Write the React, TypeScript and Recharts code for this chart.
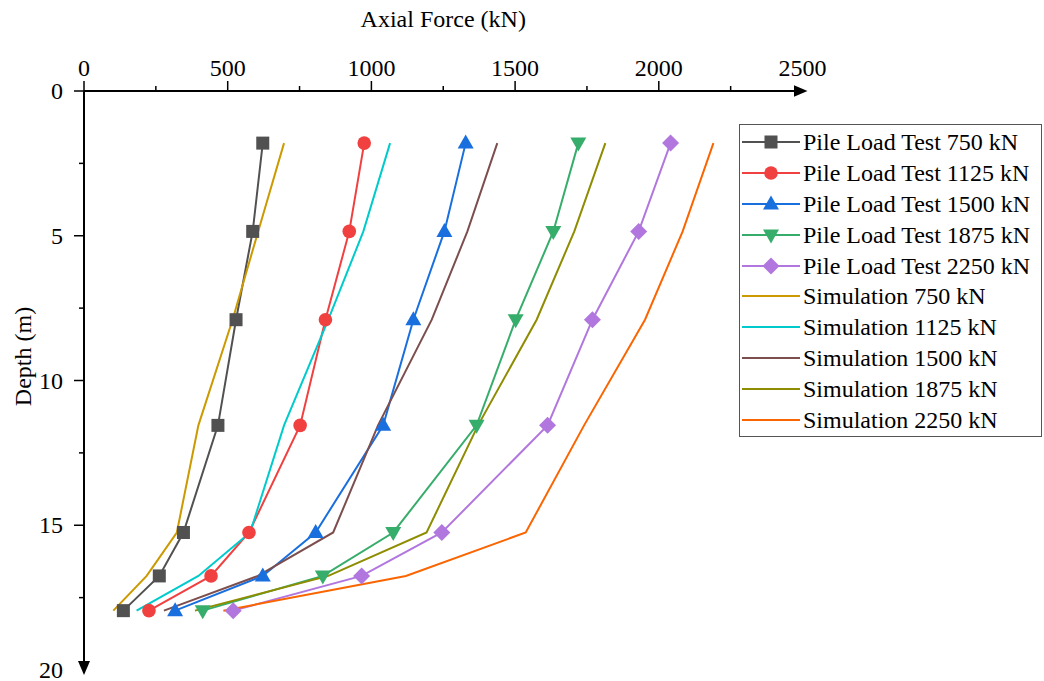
import React from "react";
import { LineChart, Line, XAxis, YAxis, Legend } from "recharts";

const FONT = '"Liberation Serif", "Times New Roman", serif';

// depth of each strain gauge level (m)
const depths = [1.8, 4.85, 7.9, 11.55, 15.25, 16.75, 17.95];

// measured axial force (kN)
const test750 = [622, 587, 529, 466, 346, 262, 137];
const test1125 = [975, 923, 840, 752, 574, 442, 226];
const test1500 = [1328, 1254, 1146, 1041, 806, 622, 317];
const test1875 = [1720, 1633, 1502, 1366, 1076, 831, 413];
const test2250 = [2041, 1930, 1769, 1613, 1245, 966, 519];

// simulated axial force (kN)
const sim750 = [696, 606, 517, 398, 323, 218, 102];
const sim1125 = [1065, 972, 850, 696, 578, 398, 183];
const sim1500 = [1438, 1334, 1210, 1023, 867, 605, 278];
const sim1875 = [1814, 1706, 1575, 1371, 1192, 850, 386];
const sim2250 = [2190, 2083, 1952, 1740, 1537, 1120, 485];

const forceTicks = [0, 250, 500, 750, 1000, 1250, 1500, 1750, 2000, 2250, 2500];
const depthTicks = [0, 2.5, 5, 7.5, 10, 12.5, 15, 17.5, 20];

type MarkerKind = "square" | "circle" | "up" | "down" | "diamond" | null;

const series: { key: string; name: string; color: string; marker: MarkerKind; values: number[] }[] = [
    { key: "t750", name: "Pile Load Test 750 kN", color: "#515151", marker: "square", values: test750 },
    { key: "t1125", name: "Pile Load Test 1125 kN", color: "#F14040", marker: "circle", values: test1125 },
    { key: "t1500", name: "Pile Load Test 1500 kN", color: "#1A6FDF", marker: "up", values: test1500 },
    { key: "t1875", name: "Pile Load Test 1875 kN", color: "#37AD6B", marker: "down", values: test1875 },
    { key: "t2250", name: "Pile Load Test 2250 kN", color: "#B177DE", marker: "diamond", values: test2250 },
    { key: "s750", name: "Simulation 750 kN", color: "#CC9900", marker: null, values: sim750 },
    { key: "s1125", name: "Simulation 1125 kN", color: "#00CBCC", marker: null, values: sim1125 },
    { key: "s1500", name: "Simulation 1500 kN", color: "#7D4E4E", marker: null, values: sim1500 },
    { key: "s1875", name: "Simulation 1875 kN", color: "#8E8C00", marker: null, values: sim1875 },
    { key: "s2250", name: "Simulation 2250 kN", color: "#FB6501", marker: null, values: sim2250 },
];

const rows = depths.map((depth, i) => {
    const row: Record<string, number> = { depth };
    series.forEach((s) => {
        row[s.key] = s.values[i];
    });
    return row;
});

function Marker({ kind, cx, cy, color }: { kind: MarkerKind; cx: number; cy: number; color: string }) {
    if (cx == null || cy == null) return null;
    switch (kind) {
        case "square":
            return <rect x={cx - 6.5} y={cy - 6.5} width={13} height={13} fill={color} />;
        case "circle":
            return <circle cx={cx} cy={cy} r={6.8} fill={color} />;
        case "up":
            return <path d={`M${cx},${cy - 8.5} L${cx + 8},${cy + 5.5} L${cx - 8},${cy + 5.5} Z`} fill={color} />;
        case "down":
            return <path d={`M${cx},${cy + 8.5} L${cx + 8},${cy - 5.5} L${cx - 8},${cy - 5.5} Z`} fill={color} />;
        case "diamond":
            return <path d={`M${cx},${cy - 8.5} L${cx + 8.5},${cy} L${cx},${cy + 8.5} L${cx - 8.5},${cy} Z`} fill={color} />;
        default:
            return null;
    }
}

function ForceTick(props: any) {
    const { x, y, payload } = props;
    const v = payload.value;
    const major = v % 500 === 0;
    return (
        <g>
            {v !== 2500 && (
                <line x1={x} x2={x} y1={y} y2={y - (major ? 10 : 5)} stroke="#000" strokeWidth={1.5} />
            )}
            {major && (
                <text x={x} y={y - 15} textAnchor="middle" fontSize={24} fontFamily={FONT} fill="#000">
                    {v}
                </text>
            )}
        </g>
    );
}

function DepthTick(props: any) {
    const { x, y, payload } = props;
    const v = payload.value;
    const major = v % 5 === 0;
    return (
        <g>
            {v !== 20 && (
                <line x1={x} x2={x - (major ? 10 : 5)} y1={y} y2={y} stroke="#000" strokeWidth={1.5} />
            )}
            {major && (
                <text x={x - 21} y={y} dy="0.34em" textAnchor="end" fontSize={24} fontFamily={FONT} fill="#000">
                    {v}
                </text>
            )}
        </g>
    );
}

function ForceTitle(props: any) {
    const { x, y, width } = props.viewBox;
    return (
        <text x={x + width / 2} y={y - 24} textAnchor="middle" fontSize={24} fontFamily={FONT} fill="#000">
            Axial Force (kN)
        </text>
    );
}

function DepthTitle(props: any) {
    const { x, y, height } = props.viewBox;
    const cx = x - 1;
    const cy = y + height / 2 - 24;
    return (
        <text
            x={cx}
            y={cy}
            transform={`rotate(-90 ${cx} ${cy})`}
            textAnchor="middle"
            dy="0.34em"
            fontSize={24}
            fontFamily={FONT}
            fill="#000"
        >
            Depth (m)
        </text>
    );
}

function LegendBox() {
    return (
        <div
            style={{
                border: "1px solid #555",
                background: "#fff",
                padding: "2px 4px 1px 2px",
                boxSizing: "border-box",
                width: 303,
                fontFamily: FONT,
                fontSize: 24,
                color: "#000",
            }}
        >
            {series.map((s) => (
                <div
                    key={s.key}
                    style={{ display: "flex", alignItems: "center", height: 30.8, whiteSpace: "nowrap" }}
                >
                    <svg width={58} height={20} style={{ flex: "none" }}>
                        <line x1={0} x2={58} y1={10} y2={10} stroke={s.color} strokeWidth={2} />
                        <Marker kind={s.marker} cx={29} cy={10} color={s.color} />
                    </svg>
                    <span style={{ marginLeft: 3, lineHeight: "30px" }}>{s.name}</span>
                </div>
            ))}
        </div>
    );
}

const axisLine = { stroke: "#000", strokeWidth: 2, markerEnd: "url(#axisArrow)" };

export default function App() {
    return (
        <div style={{ position: "absolute", left: 0, top: 0, width: 1044, height: 681, background: "#fff" }}>
            <svg width={0} height={0} style={{ position: "absolute" }}>
                <defs>
                    <marker
                        id="axisArrow"
                        viewBox="0 0 14 12"
                        refX={9}
                        refY={6}
                        markerWidth={14}
                        markerHeight={12}
                        markerUnits="userSpaceOnUse"
                        orient="auto"
                    >
                        <path d="M0,0 L14,6 L0,12 Z" fill="#000" />
                    </marker>
                </defs>
            </svg>
            <LineChart
                width={1044}
                height={681}
                layout="vertical"
                data={rows}
                margin={{ top: 51, right: 241.5, bottom: 11, left: 24 }}
            >
                <XAxis
                    type="number"
                    orientation="top"
                    domain={[0, 2500]}
                    allowDataOverflow
                    ticks={forceTicks}
                    interval={0}
                    tickSize={0}
                    tickMargin={0}
                    tickLine={false}
                    tick={<ForceTick />}
                    axisLine={axisLine}
                    height={40}
                    label={<ForceTitle />}
                />
                {/* vertical layout already runs the depth axis downward */}
                <YAxis
                    type="number"
                    dataKey="depth"
                    domain={[0, 20]}
                    allowDataOverflow
                    ticks={depthTicks}
                    interval={0}
                    tickSize={0}
                    tickMargin={0}
                    tickLine={false}
                    tick={<DepthTick />}
                    axisLine={axisLine}
                    width={60}
                    label={<DepthTitle />}
                />
                {series.map((s) => (
                    <Line
                        key={s.key}
                        dataKey={s.key}
                        name={s.name}
                        stroke={s.color}
                        strokeWidth={2}
                        type="linear"
                        isAnimationActive={false}
                        activeDot={false}
                        dot={
                            s.marker
                                ? (p: any) => (
                                      <Marker key={`${s.key}-${p.index}`} kind={s.marker} cx={p.cx} cy={p.cy} color={s.color} />
                                  )
                                : false
                        }
                    />
                ))}
                <Legend
                    layout="vertical"
                    align="center"
                    verticalAlign="middle"
                    wrapperStyle={{ left: 739, top: 124, width: 303 }}
                    content={() => <LegendBox />}
                />
            </LineChart>
        </div>
    );
}
